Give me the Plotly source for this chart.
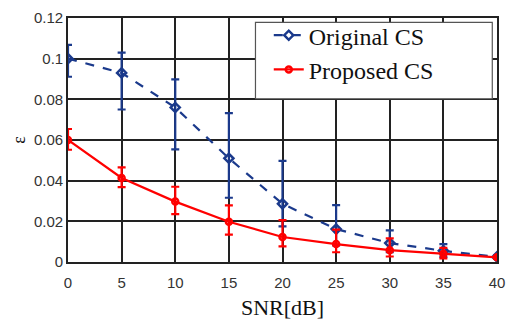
import plotly.graph_objects as go

snr = [0, 5, 10, 15, 20, 25, 30, 35, 40]

orig_eps = [0.100, 0.093, 0.076, 0.051, 0.0286, 0.0162, 0.0093, 0.0055, 0.0025]
orig_plus = [0.0068, 0.0100, 0.0138, 0.0222, 0.0211, 0.0118, 0.0063, 0.0033, 0.0008]
orig_minus = [0.0089, 0.0180, 0.0206, 0.0194, 0.0111, 0.0080, 0.0045, 0.0030, 0.0008]

prop_eps = [0.060, 0.0413, 0.0297, 0.0198, 0.0123, 0.0088, 0.0058, 0.0040, 0.0023]
prop_plus = [0.0054, 0.0052, 0.0073, 0.0080, 0.0083, 0.0071, 0.0058, 0.0029, 0.0006]
prop_minus = [0.0048, 0.0045, 0.0062, 0.0063, 0.0046, 0.0040, 0.0031, 0.0022, 0.0006]

blue = "#1B3A8C"
red = "#FF0000"
serif = "Liberation Serif"

fig = go.Figure()
fig.add_trace(go.Scatter(
    x=snr, y=orig_eps, name="Original CS", mode="lines+markers",
    line=dict(color=blue, width=2.2, dash="dash"),
    marker=dict(symbol="diamond-open", size=7, color=blue, line=dict(width=2.5)),
    error_y=dict(type="data", symmetric=False, array=orig_plus, arrayminus=orig_minus,
                 color=blue, thickness=2.2, width=4),
))
fig.add_trace(go.Scatter(
    x=snr, y=prop_eps, name="Proposed CS", mode="lines+markers",
    line=dict(color=red, width=2.2),
    marker=dict(symbol="circle-open", size=6, color=red, line=dict(width=2.5)),
    error_y=dict(type="data", symmetric=False, array=prop_plus, arrayminus=prop_minus,
                 color=red, thickness=2.2, width=4),
))

axis_common = dict(
    showgrid=True, gridcolor="#222222", gridwidth=1.6,
    showline=True, linecolor="#222222", linewidth=1.6, mirror=True,
    zeroline=False, ticks="",
    tickfont=dict(family="Liberation Sans", size=15, color="#333333"),
)
fig.update_xaxes(range=[0, 40], tickvals=[0, 5, 10, 15, 20, 25, 30, 35, 40],
                 ticklabelstandoff=6,
                 title=dict(text="SNR[dB]", font=dict(family=serif, size=22, color="#111111"), standoff=10),
                 **axis_common)
fig.update_yaxes(range=[0, 0.12], tickvals=[0, 0.02, 0.04, 0.06, 0.08, 0.1, 0.12],
                 ticktext=["0", "0.02", "0.04", "0.06", "0.08", "0.1", "0.12"],
                 title=dict(text="ε", font=dict(family=serif, size=18, color="#111111"), standoff=4),
                 **axis_common)

# legend frame
fig.add_shape(type="rect", xref="paper", yref="paper",
              x0=0.437, x1=0.989, y0=0.669, y1=0.982,
              line=dict(color="#555555", width=1.2), fillcolor="white", layer="above")

fig.update_layout(
    width=514, height=325,
    margin=dict(l=68, r=9, t=10, b=63),
    paper_bgcolor="white", plot_bgcolor="white",
    showlegend=True,
    legend=dict(x=0.468, y=1.02, xanchor="left", yanchor="top",
                bgcolor="rgba(0,0,0,0)", borderwidth=0,
                font=dict(family=serif, size=24, color="#111111"),
                tracegroupgap=0),
)

fig.write_html("out.html")
